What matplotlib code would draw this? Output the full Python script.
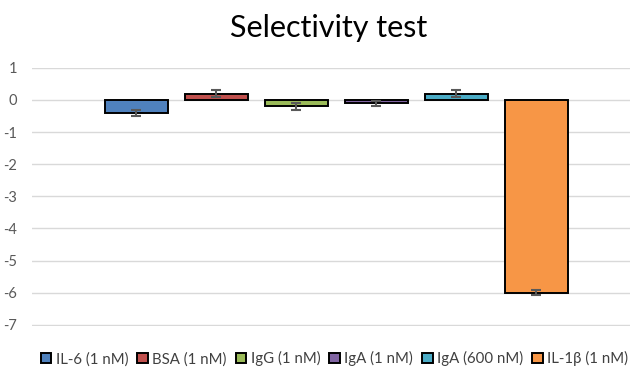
import matplotlib
matplotlib.use("Agg")
import matplotlib.pyplot as plt
import numpy as np

plt.rcParams['font.family'] = ['Lato', 'DejaVu Sans']

labels = ["IL-6 (1 nM)", "BSA (1 nM)", "IgG (1 nM)", "IgA (1 nM)", "IgA (600 nM)", "IL-1β (1 nM)"]
values = [-0.4, 0.2, -0.2, -0.1, 0.2, -6.0]
errors = [0.1, 0.1, 0.1, 0.08, 0.1, 0.07]
colors = ["#4F81BD", "#C0504D", "#9BBB59", "#8064A2", "#4BACC6", "#F79646"]
yticks = [1, 0, -1, -2, -3, -4, -5, -6, -7]

fig = plt.figure(figsize=(6.3, 3.69), dpi=100)
ax = fig.add_axes([0.051, 0.117, 0.949, 0.70])

n = len(values)
width = 0.63
spacing = 0.8
pos = (np.arange(n) - (n - 1) / 2) * spacing
for i in range(n):
    ax.bar(pos[i], values[i], width=width, color=colors[i], edgecolor="black",
           linewidth=1.4, label=labels[i], zorder=3)
    ax.errorbar(pos[i], values[i], yerr=errors[i], fmt="none", ecolor="#595959",
                elinewidth=1.5, capsize=3.5, capthick=1.5, zorder=4)

ax.set_xlim(-3.04, 2.94)
ax.set_ylim(-7.03, 1.01)
ax.set_yticks(yticks)
ax.set_yticklabels([str(t) for t in yticks])
ax.yaxis.grid(True, color="#D9D9D9", linewidth=1, zorder=0)
ax.set_xticks([])
for s in ax.spines.values():
    s.set_visible(False)
ax.tick_params(axis="y", length=0, labelsize=10.5, labelcolor="#595959", pad=11)

fig.text(0.522, 0.925, "Selectivity test", ha="center", va="center", fontsize=22, color="black")

leg = ax.legend(loc="upper center", bbox_to_anchor=(0.506, -0.075), ncol=6, frameon=False,
                fontsize=10.8, handlelength=0.7, handleheight=0.7, handletextpad=0.3,
                columnspacing=0.6, borderaxespad=0)
for t in leg.get_texts():
    t.set_color("#404040")

fig.savefig("out.png", dpi=100)
